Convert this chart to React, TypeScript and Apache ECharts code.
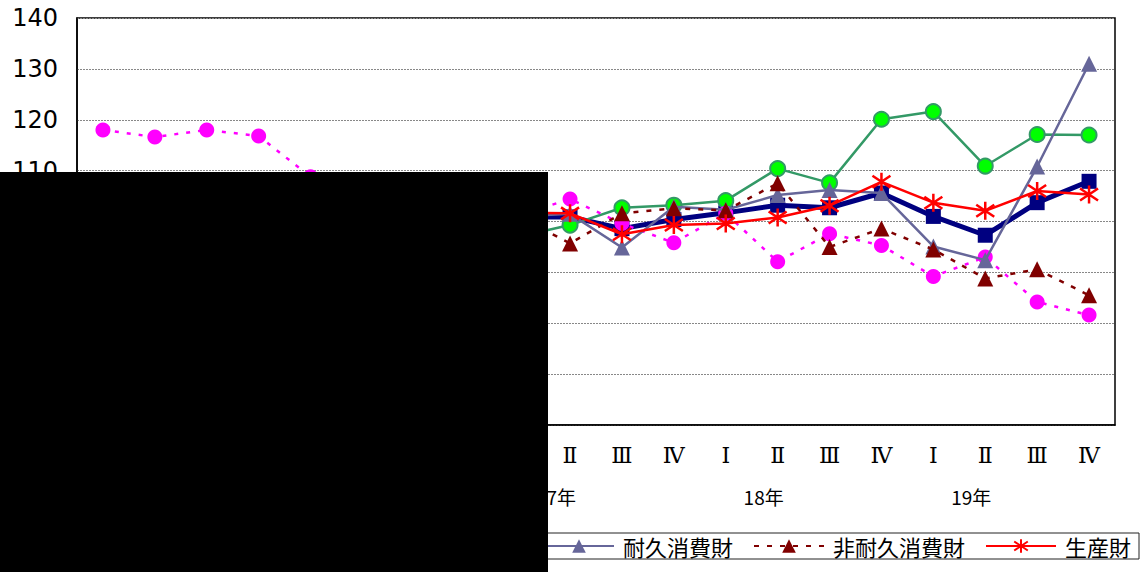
import React, { useEffect, useRef } from "react";
import * as echarts from "echarts";

const quarters = ["Ⅰ","Ⅱ","Ⅲ","Ⅳ","Ⅰ","Ⅱ","Ⅲ","Ⅳ","Ⅰ","Ⅱ","Ⅲ","Ⅳ","Ⅰ","Ⅱ","Ⅲ","Ⅳ","Ⅰ","Ⅱ","Ⅲ","Ⅳ"];
const yearLabels = ["","15年","","","","16年","","","","17年","","","","18年","","","","19年","",""];
const yTicks = [60, 140, 10];

const mining: (number | null)[] = [null,null,null,null,null,null,null,null,100.9,100.9,98.6,100.4,101.7,103.2,102.7,105.6,101.0,97.3,103.7,107.9];
const capital: (number | null)[] = [null,null,null,null,null,null,null,null,97.0,99.3,102.7,103.2,104.1,110.4,107.6,120.1,121.6,110.9,117.1,117.0];
const construction: (number | null)[] = [118.0,116.6,118.0,116.8,108.8,null,null,null,101.2,104.4,99.6,95.8,101.6,92.1,97.6,95.3,89.2,93.0,84.2,81.6];
const durable: (number | null)[] = [null,null,null,null,null,null,null,null,101.0,101.5,94.9,102.9,102.3,105.2,106.2,105.6,95.1,92.4,110.8,131.0];
const nonDurable: (number | null)[] = [null,null,null,null,null,null,null,null,101.0,95.7,101.6,102.6,102.2,107.5,95.0,98.6,94.5,88.8,90.6,85.5];
const producer: (number | null)[] = [null,null,null,null,null,null,null,null,101.7,101.6,97.5,99.3,99.6,100.8,103.1,107.8,103.7,102.1,106.0,105.3];

const legendNames = ["耐久消費財", "非耐久消費財", "生産財"];
const asterisk = "path://M9,0L9,18M1,3L17,15M1,15L17,3";

export default function App() {
  const ref = useRef<HTMLDivElement>(null);
  useEffect(() => {
    document.body.style.margin = "0";
    const chart = echarts.init(ref.current!, null, { renderer: "svg" });
    chart.setOption({
      animation: false,
      backgroundColor: "#ffffff",
      textStyle: { fontFamily: "Noto Sans CJK JP", color: "#000" },
      grid: { left: 77, top: 18, right: 28, bottom: 147, show: true, borderColor: "#000", borderWidth: 1.5, backgroundColor: "transparent" },
      legend: {
        data: legendNames,
        right: 4,
        top: 533,
        padding: [2, 8, 2, 6],
        borderColor: "#222",
        borderWidth: 1,
        itemWidth: 70,
        itemHeight: 17,
        itemGap: 20,
        textStyle: { fontSize: 22, color: "#000", fontFamily: "Noto Sans CJK JP", padding: [0, 0, 0, 4] },
      },
      xAxis: [
        {
          type: "category",
          data: quarters,
          boundaryGap: true,
          position: "bottom",
          axisLine: { lineStyle: { color: "#000", width: 1.5 } },
          axisTick: { inside: true, length: 6, lineStyle: { color: "#000" } },
          axisLabel: { fontSize: 22, color: "#000", margin: 19, interval: 0, fontFamily: "DejaVu Serif" },
          splitLine: { show: false },
        },
        {
          type: "category",
          data: quarters,
          boundaryGap: true,
          position: "bottom",
          offset: 0,
          axisLine: { show: false },
          axisTick: { show: false },
          axisLabel: {
            fontSize: 19,
            color: "#000",
            margin: 62,
            interval: 0,
            padding: [0, 28, 0, 0],
            fontFamily: "Noto Sans CJK JP",
            formatter: (_v: string, i: number) => yearLabels[i],
          },
        },
      ],
      yAxis: {
        type: "value",
        min: yTicks[0],
        max: yTicks[1],
        interval: yTicks[2],
        axisLine: { show: true, lineStyle: { color: "#000", width: 1.5 } },
        axisTick: { show: false },
        axisLabel: { fontSize: 24, color: "#000", margin: 19, fontFamily: "DejaVu Sans" },
        splitLine: { lineStyle: { color: "#888", width: 1, type: [2, 1] } },
      },
      series: [
        {
          name: "鉱工業", type: "line", data: mining,
          lineStyle: { color: "#000080", width: 5 },
          itemStyle: { color: "#000080" },
          symbol: "rect", symbolSize: 15, z: 2,
        },
        {
          name: "資本財", type: "line", data: capital,
          lineStyle: { color: "#339966", width: 2.5 },
          itemStyle: { color: "#00ff00", borderColor: "#339966", borderWidth: 2 },
          symbol: "circle", symbolSize: 15, z: 3,
        },
        {
          name: "建設財", type: "line", data: construction,
          lineStyle: { color: "#ff00ff", width: 2.5, type: [4, 8] },
          itemStyle: { color: "#ff00ff" },
          symbol: "circle", symbolSize: 15, z: 4,
        },
        {
          name: "耐久消費財", type: "line", data: durable,
          lineStyle: { color: "#666699", width: 2.5 },
          itemStyle: { color: "#666699" },
          symbol: "triangle", symbolSize: 16, z: 5,
        },
        {
          name: "非耐久消費財", type: "line", data: nonDurable,
          lineStyle: { color: "#800000", width: 2.5, type: [5, 8] },
          itemStyle: { color: "#800000" },
          symbol: "triangle", symbolSize: 16, z: 6,
        },
        {
          name: "生産財", type: "line", data: producer,
          lineStyle: { color: "#ff0000", width: 2.5 },
          itemStyle: { color: "none", borderColor: "#ff0000", borderWidth: 2.5 },
          symbol: asterisk, symbolSize: 18, z: 7,
        },
      ],
      graphic: [
        { type: "rect", left: 0, top: 172, shape: { width: 548, height: 400 }, style: { fill: "#000" }, z: 100 },
      ],
    });
    return () => chart.dispose();
  }, []);
  return <div ref={ref} style={{ width: 1143, height: 572 }} />;
}
